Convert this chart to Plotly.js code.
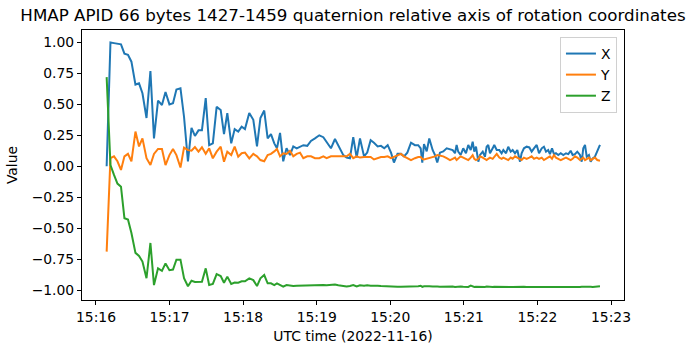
<!DOCTYPE html>
<html><head><meta charset="utf-8">
<script src="https://cdn.plot.ly/plotly-3.0.1.min.js"></script>
<style>html,body{margin:0;padding:0;background:#fff}</style>
</head><body><div id="chart" style="width:695px;height:353px"></div>
<script>
// seconds after 2022-11-16 15:16:00 UTC
const seconds = [
8.7,11.8,14.7,17.5,20.4,23.2,26.1,28.9,32.2,35.1,
37.9,41.2,44.4,47.3,50.6,53.8,56.7,59.9,62.8,65.6,
68.9,71.8,75.0,77.9,80.7,83.6,86.4,89.5,92.3,95.3,
98.4,101.7,104.4,107.1,110.3,113.1,116.0,118.8,121.5,125.0,
128.3,131.3,134.1,137.2,140.0,142.7,145.4,147.6,150.1,152.7,
155.4,158.2,160.9,163.7,166.4,169.1,172.3,175.3,178.6,182.1,
185.4,188.1,191.6,194.9,197.6,201.7,204.4,207.1,209.8,212.6,
215.3,218.6,221.2,224.0,226.7,229.7,232.4,235.1,237.9,240.6,
243.0,245.9,248.7,251.2,253.9,256.9,260.1,262.8,264.8,266.1,
267.5,269.7,271.8,274.6,276.5,278.3,280.5,283.2,286.0,288.7,
290.9,292.8,294.1,295.4,297.4,299.5,301.7,303.6,305.6,307.2,
308.5,309.9,311.8,313.2,315.4,317.2,318.6,319.9,321.3,323.5,
324.8,326.8,328.9,330.8,332.2,334.4,336.2,338.2,339.8,341.7,
343.6,345.8,347.1,349.0,351.2,353.4,355.3,357.2,359.4,361.3,
363.5,365.3,367.0,368.8,370.2,371.9,373.5,375.1,377.0,379.0,
381.1,383.3,385.2,387.1,388.7,390.6,392.5,394.7,396.1,397.4,
398.8,400.2,402.0,403.4,405.1,406.9,408.8,411.0];

const xValues = [
0.00,1.00,0.995,0.99,0.985,0.91,0.90,0.845,0.66,0.67,
0.59,0.39,0.77,0.225,0.53,0.495,0.60,0.50,0.51,0.62,
0.63,0.40,0.04,0.31,0.245,0.29,0.29,0.55,0.17,0.185,
0.48,0.455,0.26,0.43,0.185,0.30,0.28,0.32,0.30,0.43,
0.375,0.16,0.39,0.45,0.225,0.26,0.185,0.145,0.27,0.04,
0.145,0.09,0.16,0.145,0.16,0.17,0.165,0.205,0.225,0.25,
0.235,0.20,0.145,0.22,0.17,0.09,0.07,0.065,0.235,0.07,
0.225,0.08,0.11,0.21,0.19,0.16,0.165,0.145,0.17,0.11,
0.03,0.10,0.10,0.08,0.11,0.19,0.17,0.17,0.145,0.03,
0.18,0.12,0.225,0.13,0.09,0.03,0.11,0.12,0.145,0.14,
0.131,0.105,0.172,0.118,0.091,0.145,0.105,0.172,0.131,0.198,
0.118,0.158,0.037,0.091,0.118,0.077,0.158,0.172,0.105,0.145,
0.172,0.131,0.131,0.105,0.131,0.105,0.158,0.118,0.131,0.105,
0.131,0.037,0.105,0.145,0.158,0.152,0.118,0.145,0.172,0.105,
0.145,0.158,0.118,0.131,0.098,0.145,0.098,0.105,0.091,0.105,
0.091,0.105,0.098,0.125,0.091,0.098,0.118,0.091,0.037,0.145,
0.172,0.077,0.091,0.037,0.064,0.077,0.118,0.172];

const yValues = [
-0.69,0.065,0.08,0.04,-0.03,0.08,0.10,0.04,0.28,0.16,
0.225,0.065,0.01,0.10,0.14,0.14,0.01,0.09,0.14,0.09,
-0.01,0.15,0.13,0.125,0.155,0.118,0.153,0.10,0.145,0.064,
0.118,0.158,0.037,0.118,0.091,0.158,0.077,0.105,0.11,0.064,
0.10,0.08,0.05,0.04,0.09,0.10,0.12,0.14,0.08,0.105,
0.10,0.125,0.08,0.10,0.11,0.065,0.08,0.08,0.065,0.065,
0.08,0.065,0.08,0.08,0.08,0.08,0.08,0.10,0.065,0.08,
0.07,0.075,0.075,0.075,0.055,0.065,0.075,0.075,0.08,0.065,
0.075,0.09,0.10,0.08,0.065,0.05,0.065,0.075,0.075,0.06,
0.055,0.06,0.065,0.075,0.08,0.09,0.085,0.08,0.065,0.05,
0.06,0.07,0.05,0.06,0.08,0.07,0.06,0.05,0.07,0.09,
0.06,0.05,0.06,0.08,0.07,0.06,0.05,0.06,0.07,0.06,
0.08,0.10,0.07,0.06,0.07,0.06,0.05,0.07,0.06,0.08,
0.07,0.06,0.05,0.07,0.06,0.07,0.08,0.06,0.07,0.06,
0.07,0.05,0.06,0.07,0.08,0.06,0.09,0.07,0.06,0.05,
0.06,0.07,0.06,0.05,0.06,0.08,0.07,0.05,0.06,0.07,
0.05,0.06,0.07,0.05,0.06,0.07,0.05,0.045];

const zValues = [
0.72,0.01,-0.07,-0.14,-0.165,-0.42,-0.43,-0.54,-0.70,-0.725,
-0.77,-0.905,-0.62,-0.96,-0.825,-0.845,-0.785,-0.84,-0.835,-0.755,
-0.755,-0.905,-0.97,-0.925,-0.935,-0.933,-0.933,-0.825,-0.96,-0.951,
-0.871,-0.887,-0.941,-0.892,-0.951,-0.94,-0.941,-0.93,-0.93,-0.906,
-0.92,-0.968,-0.906,-0.879,-0.946,-0.946,-0.96,-0.946,-0.96,-0.973,
-0.96,-0.965,-0.968,-0.966,-0.965,-0.965,-0.962,-0.96,-0.958,-0.957,
-0.96,-0.962,-0.958,-0.956,-0.962,-0.968,-0.972,-0.968,-0.96,-0.972,
-0.962,-0.966,-0.962,-0.965,-0.968,-0.966,-0.968,-0.97,-0.972,-0.972,
-0.973,-0.973,-0.973,-0.973,-0.972,-0.97,-0.968,-0.97,-0.966,-0.975,
-0.97,-0.968,-0.97,-0.972,-0.97,-0.972,-0.973,-0.972,-0.973,-0.973,
-0.972,-0.975,-0.973,-0.975,-0.972,-0.974,-0.976,-0.975,-0.965,-0.972,
-0.975,-0.973,-0.975,-0.974,-0.976,-0.975,-0.972,-0.974,-0.975,-0.976,
-0.974,-0.975,-0.973,-0.975,-0.976,-0.975,-0.974,-0.976,-0.975,-0.974,
-0.975,-0.976,-0.975,-0.974,-0.976,-0.975,-0.976,-0.975,-0.976,-0.977,
-0.976,-0.975,-0.976,-0.977,-0.976,-0.975,-0.976,-0.977,-0.976,-0.975,
-0.977,-0.976,-0.975,-0.976,-0.977,-0.976,-0.975,-0.976,-0.974,-0.973,
-0.975,-0.976,-0.975,-0.974,-0.975,-0.973,-0.972,-0.97];

const seriesNames = ['X', 'Y', 'Z'];
const seriesColors = ['#1f77b4', '#ff7f0e', '#2ca02c'];
const yTickVals = [-1, -0.75, -0.5, -0.25, 0, 0.25, 0.5, 0.75, 1];

const base = Date.UTC(2022, 10, 16, 15, 16, 0);
function toTime(s) {
  return new Date(base + Math.round(s * 1000)).toISOString().replace('T', ' ').replace('Z', '');
}
const times = seconds.map(toTime);
const font = 'DejaVu Sans, sans-serif';

const traces = [xValues, yValues, zValues].map((vals, i) => ({
  type: 'scatter', mode: 'lines', x: times, y: vals, name: seriesNames[i],
  line: {color: seriesColors[i], width: 2}
}));

const layout = {
  width: 695, height: 353,
  margin: {l: 82, r: 71, t: 30, b: 53},
  paper_bgcolor: '#fff', plot_bgcolor: '#fff',
  font: {family: font, size: 13.9, color: '#000'},
  title: {text: 'HMAP APID 66 bytes 1427-1459 quaternion relative axis of rotation coordinates',
    font: {family: font, size: 16.7, color: '#000'}, x: 0.5, xref: 'paper', xanchor: 'center',
    y: 1 - 15/353, yref: 'container', yanchor: 'middle'},
  xaxis: {type: 'date', range: [toTime(-11.4), toTime(430.6)], tickformat: '%H:%M',
    dtick: 60000, tick0: toTime(0),
    showgrid: false, zeroline: false, showline: true, mirror: true, linecolor: '#000', linewidth: 1,
    ticks: 'outside', ticklen: 4, tickwidth: 1, tickcolor: '#000',
    tickfont: {family: font, size: 13.9, color: '#000'},
    title: {text: 'UTC time (2022-11-16)', font: {family: font, size: 13.9, color: '#000'}, standoff: 7}},
  yaxis: {range: [-1.0808, 1.101], tickvals: yTickVals, tickformat: '.2f',
    showgrid: false, zeroline: false, showline: true, mirror: true, linecolor: '#000', linewidth: 1,
    ticks: 'outside', ticklen: 4, tickwidth: 1, tickcolor: '#000',
    tickfont: {family: font, size: 13.9, color: '#000'},
    title: {text: 'Value', font: {family: font, size: 13.9, color: '#000'}, standoff: 10}},
  legend: {x: 0.987, xanchor: 'right', y: 0.974, yanchor: 'top', bgcolor: '#fff',
    bordercolor: '#d0d0d0', borderwidth: 1, font: {family: font, size: 13.9, color: '#000'},
    itemwidth: 30, tracegroupgap: 0},
  showlegend: true
};

Plotly.newPlot('chart', traces, layout, {displayModeBar: false, staticPlot: true});
</script>
</body></html>
